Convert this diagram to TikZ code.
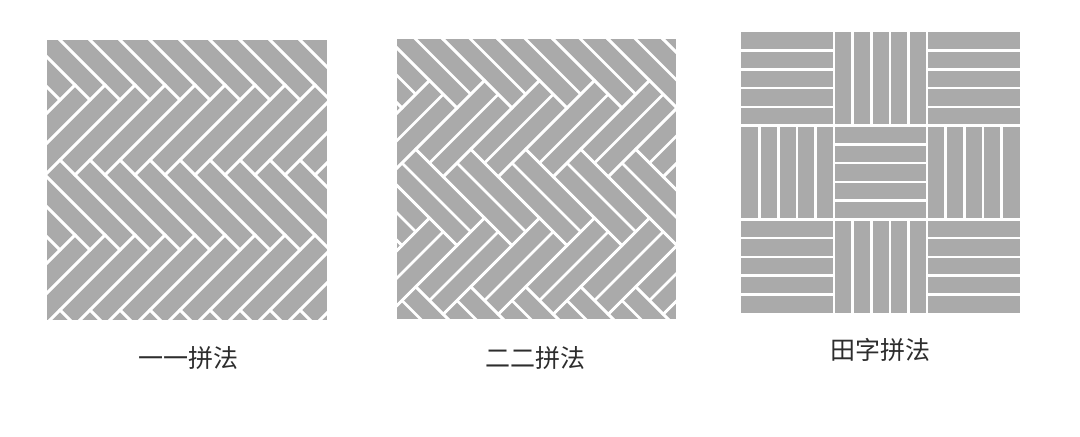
\documentclass[tikz,border=0pt]{standalone}
\usepackage{fontspec}
\newfontfamily\cjk{Noto Sans CJK SC}
\definecolor{board}{RGB}{170,170,170}
\definecolor{ink}{RGB}{45,45,45}

\begin{document}
\begin{tikzpicture}[x=0.5pt,y=-0.5pt,
  seam/.style={white,line width=1.3pt},
  caption/.style={font=\cjk\fontsize{12.5}{14}\selectfont,text=ink}]
\useasboundingbox (0,0) rectangle (1080,436);

% one by one herringbone
\begin{scope}
\clip (47,40) rectangle (327,320);
\fill[board] (47,40) rectangle (327,320);
\begin{scope}[shift={(22.5pt,-12.5pt)},x={(7.5pt,-7.5pt)},y={(7.5pt,7.5pt)}]
\foreach \m in {0,1,2}
\foreach \j in {-6,...,12} {
  \draw[seam] ({\j+5*\m},{\j-5*\m}) -- ++(5,0) -- ++(0,1) -- ++(-5,0) -- cycle;
  \draw[seam] ({\j+5+5*\m},{\j-4-5*\m}) -- ++(1,0) -- ++(0,5) -- ++(-1,0) -- cycle;
}
\end{scope}
\end{scope}

% two by two herringbone
\begin{scope}
\clip (397,39) rectangle (676,319);
\fill[board] (397,39) rectangle (676,319);
\begin{scope}[shift={(194.125pt,-19.625pt)},x={(13.75pt,-13.75pt)},y={(13.75pt,13.75pt)}]
\foreach \m in {-1,0,1,2}
\foreach \j in {-4,...,8} {
  \draw[seam] ({\j+2.5*\m},{\j-2.5*\m}) -- ++(2.5,0) -- ++(0,1) -- ++(-2.5,0) -- cycle;
  \draw[seam] ({\j+2.5*\m},{\j-2.5*\m+0.5}) -- ++(2.5,0);
  \draw[seam] ({\j+2.5+2.5*\m},{\j-1.5-2.5*\m}) -- ++(1,0) -- ++(0,2.5) -- ++(-1,0) -- cycle;
  \draw[seam] ({\j+3+2.5*\m},{\j-1.5-2.5*\m}) -- ++(0,2.5);
}
\end{scope}
\end{scope}

% basket weave
\fill[board] (741,32) rectangle (1020,313);
\foreach \r/\c in {0/0,0/2,1/1,2/0,2/2}
\foreach \i in {1,...,4}
  \draw[seam] ({741+93*\c},{32+93.67*\r+18.73*\i}) -- ++(93,0);
\foreach \r/\c in {0/1,1/0,1/2,2/1}
\foreach \i in {1,...,4}
  \draw[seam] ({741+93*\c+18.6*\i},{32+93.67*\r}) -- ++(0,93.67);
\draw[seam] (834,32) -- (834,313);
\draw[seam] (927,32) -- (927,313);
\draw[seam] (741,125.67) -- (1020,125.67);
\draw[seam] (741,219.33) -- (1020,219.33);

\node[caption] (lbl1) at (188,358) {一一拼法};
\node[caption] (lbl2) at (535,358) {二二拼法};
\node[caption] (lbl3) at (880,350) {田字拼法};
\end{tikzpicture}
\end{document}
